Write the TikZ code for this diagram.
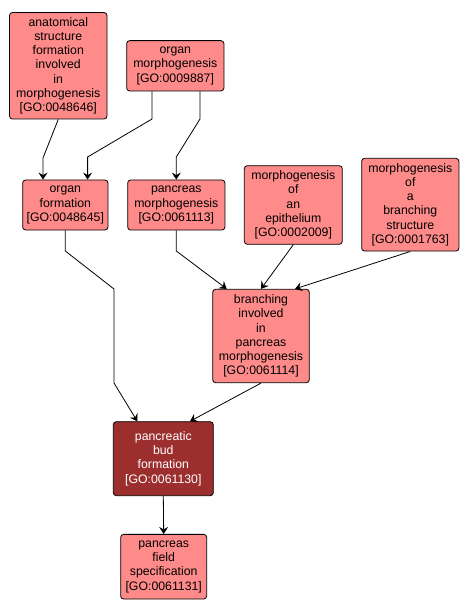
\documentclass[tikz,border=0pt]{standalone}
\usepackage{fontspec}
\setmainfont{Liberation Sans}
\usetikzlibrary{arrows.meta}
\definecolor{goterm}{RGB}{255,138,138}
\definecolor{goquery}{RGB}{156,46,46}
\begin{document}
\begin{tikzpicture}[x=1pt,y=-1pt,
  term/.style={draw=black,fill=goterm,rounded corners=3pt,line width=0.8pt,align=center,
    inner sep=0pt,font=\fontsize{12.3}{14.2}\selectfont},
  query/.style={term,fill=goquery,text=white},
  isa/.style={-{Stealth[length=7pt,width=9pt,inset=2.5pt]},line width=0.8pt}]
\useasboundingbox (0,0) rectangle (470,612);
\node [term,minimum width=97.5pt,minimum height=106.5pt] (anat) at (58.25,65.75)
  {anatomical\\structure\\formation\\involved\\in\\morphogenesis\\{[GO:0048646]}};
\node [term,minimum width=97.3pt,minimum height=50.3pt] (organmorph) at (175.3,65.8)
  {organ\\morphogenesis\\{[GO:0009887]}};
\node [term,minimum width=85.3pt,minimum height=50pt] (organform) at (65.3,205)
  {organ\\formation\\{[GO:0048645]}};
\node [term,minimum width=97.3pt,minimum height=50pt] (pancmorph) at (176.3,205)
  {pancreas\\morphogenesis\\{[GO:0061113]}};
\node [term,minimum width=98pt,minimum height=78.6pt] (epith) at (293.3,205)
  {morphogenesis\\of\\an\\epithelium\\{[GO:0002009]}};
\node [term,minimum width=97.3pt,minimum height=92.7pt] (branchstruct) at (410.3,204.7)
  {morphogenesis\\of\\a\\branching\\structure\\{[GO:0001763]}};
\node [term,minimum width=96.6pt,minimum height=93.4pt] (branchpanc) at (261,336)
  {branching\\involved\\in\\pancreas\\morphogenesis\\{[GO:0061114]}};
\node [query,minimum width=100pt,minimum height=74pt] (bud) at (163.3,458.7)
  {pancreatic\\bud\\formation\\{[GO:0061130]}};
\node [term,minimum width=86pt,minimum height=64.7pt] (field) at (163.7,566.7)
  {pancreas\\field\\specification\\{[GO:0061131]}};
% is_a links
\draw [isa] (anat.south) -- (43,158) -- ([xshift=-22.3pt]organform.north);
\draw [isa] ([xshift=-23.3pt]organmorph.south) -- (152,119) -- (87.6,157) -- ([xshift=22.3pt]organform.north);
\draw [isa] ([xshift=24.7pt]organmorph.south) -- (200,119) -- (176.3,157) -- (pancmorph.north);
\draw [isa] (organform.south) -- (65.3,251) -- (114,289) -- (114,383) -- ([xshift=-26pt]bud.north);
\draw [isa] (pancmorph.south) -- (176.3,251) -- ([xshift=-34.3pt]branchpanc.north);
\draw [isa] (epith.south) -- (branchpanc.north);
\draw [isa] (branchstruct.south) -- ([xshift=34pt]branchpanc.north);
\draw [isa] (branchpanc.south) -- ([xshift=26.7pt]bud.north);
\draw [isa] (bud.south) -- (field.north);
\end{tikzpicture}
\end{document}
